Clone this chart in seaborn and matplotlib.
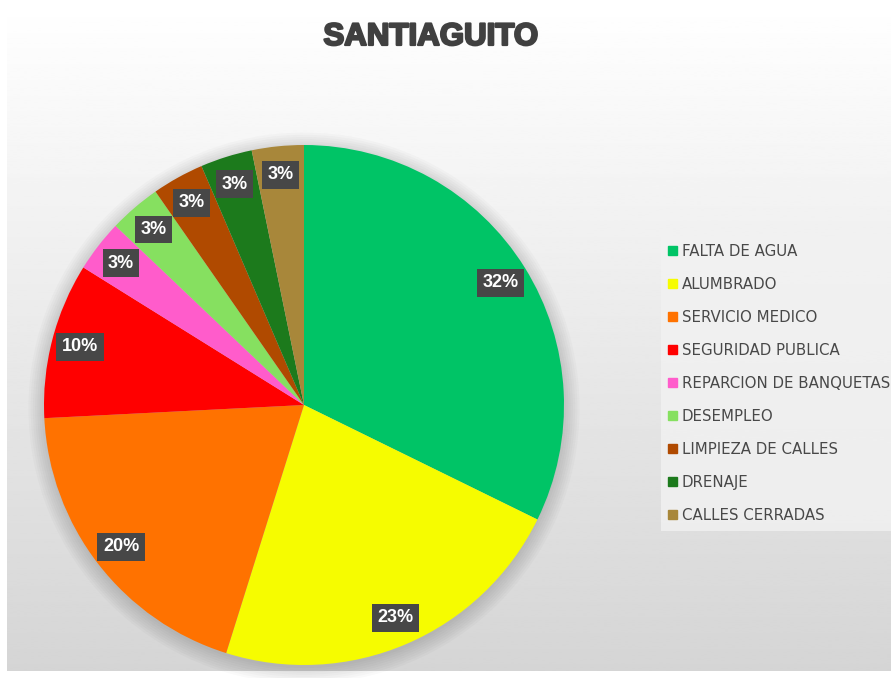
import matplotlib.pyplot as plt
import matplotlib.patches as mpatches
import matplotlib.patheffects as pe
import seaborn as sns
import numpy as np

# respuestas por problema y etiquetas tal como aparecen en la grafica
categorias = ['FALTA DE AGUA', 'ALUMBRADO', 'SERVICIO MEDICO', 'SEGURIDAD PUBLICA',
              'REPARCION DE BANQUETAS', 'DESEMPLEO', 'LIMPIEZA DE CALLES', 'DRENAJE',
              'CALLES CERRADAS']
respuestas = [10, 7, 6, 3, 1, 1, 1, 1, 1]
etiquetas = ['32%', '23%', '20%', '10%', '3%', '3%', '3%', '3%', '3%']
colores_hex = ['#00C466', '#F6FC00', '#FF7200', '#FF0000', '#FF5CCB',
               '#86E060', '#B04A00', '#1C7A1C', '#A8873A']
titulo = 'SANTIAGUITO'

sns.set_style('white')
colores = sns.color_palette(colores_hex)

fig = plt.figure(figsize=(8.91, 6.78), dpi=100)
fig.patch.set_facecolor('white')

# fondo degradado
bg = fig.add_axes([7 / 891, 7 / 678, 884 / 891, 671 / 678], zorder=0)
grad = np.linspace(1.0, 0.835, 256).reshape(-1, 1)
bg.imshow(grad, aspect='auto', cmap='gray', vmin=0, vmax=1, extent=[0, 1, 0, 1])
bg.axis('off')

ax = fig.add_axes([44 / 891, 13 / 678, 520 / 891, 520 / 678], zorder=1)
ax.set_facecolor('none')

# sombra suave
for r in np.linspace(1.06, 1.0, 8):
    ax.add_patch(mpatches.Circle((0.0, -0.012), r, color='black', alpha=0.018, lw=0,
                                 zorder=0, clip_on=False))

wedges, texts, autotexts = ax.pie(
    respuestas, colors=colores, startangle=90, counterclock=False,
    autopct='%1.0f%%', pctdistance=0.89, radius=1.0,
    wedgeprops=dict(linewidth=0),
    textprops=dict(color='white', fontsize=13, fontweight='bold', family='Liberation Sans'))
for w in wedges:
    w.set_clip_on(False)
for t, et in zip(autotexts, etiquetas):
    t.set_text(et)
    t.set_bbox(dict(boxstyle='square,pad=0.3', fc='#474747', ec='none'))
ax.set_xlim(-1, 1)
ax.set_ylim(-1, 1)
ax.set_aspect('equal')
ax.axis('off')

fig.text(431 / 891, 1 - 37 / 678, titulo, ha='center', va='center', fontsize=22.5,
         fontweight='heavy', family='Liberation Sans', color='#404040',
         path_effects=[pe.withStroke(linewidth=1.6, foreground='#404040')])

handles = [mpatches.Patch(color=c, label=l) for c, l in zip(colores, categorias)]
leg = fig.legend(handles=handles, loc='upper left', bbox_to_anchor=(653 / 891, 1 - 229 / 678),
                 frameon=True, fontsize=10.8, labelspacing=1.2, handlelength=0.6,
                 handleheight=0.6, handletextpad=0.3, borderpad=0.5, fancybox=False,
                 labelcolor='#484848')
leg.get_frame().set_facecolor('#F2F2F2')
leg.get_frame().set_edgecolor('none')
leg.set_zorder(2)

fig.savefig('out.png', dpi=100)
